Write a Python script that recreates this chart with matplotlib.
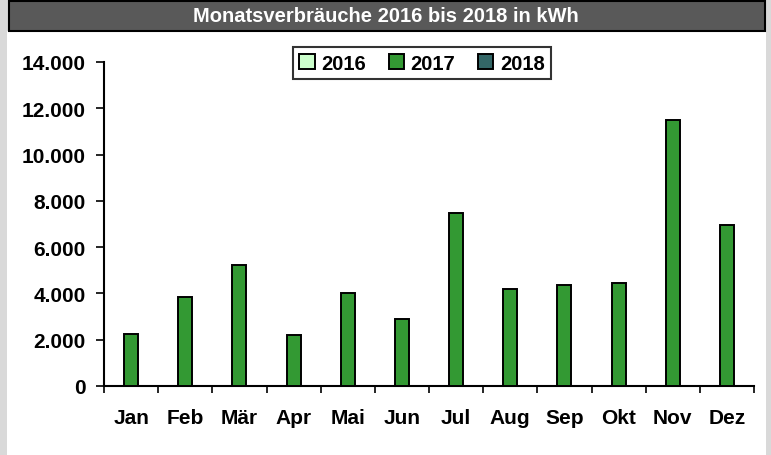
import numpy as np
import matplotlib.pyplot as plt
from matplotlib.patches import Rectangle

# Monatsverbräuche in kWh
monate = ['Jan', 'Feb', 'Mär', 'Apr', 'Mai', 'Jun',
          'Jul', 'Aug', 'Sep', 'Okt', 'Nov', 'Dez']
jahre = ['2016', '2017', '2018']
verbrauch_2016 = [np.nan] * 12
verbrauch_2017 = [2250, 3850, 5230, 2200, 4020, 2900,
                  7480, 4190, 4360, 4450, 11500, 6960]
verbrauch_2018 = [np.nan] * 12
yticks = [0, 2000, 4000, 6000, 8000, 10000, 12000, 14000]

farben = ['#ccffcc', '#339933', '#336666']

W, H = 771, 456
plt.rcParams['font.family'] = ['Liberation Sans', 'DejaVu Sans']
plt.rcParams['font.weight'] = 'bold'

fig = plt.figure(figsize=(W / 100, H / 100), dpi=100, facecolor='#d9d9d9')

# white panel and title bar
fig.patches.append(Rectangle((7 / W, 0), 759 / W, 1 - 32 / H, transform=fig.transFigure,
                             facecolor='white', edgecolor='none', zorder=-3))
fig.patches.append(Rectangle((9 / W, 1 - 32 / H), 756 / W, 30 / H, transform=fig.transFigure,
                             facecolor='#595959', edgecolor='black', linewidth=1.5, zorder=-2))
fig.text(386 / W, 1 - 17 / H, 'Monatsverbräuche 2016 bis 2018 in kWh', color='white',
         fontsize=14.5, fontweight='bold', ha='center', va='center')

ax = fig.add_axes([104 / W, 1 - 387 / H, 650 / W, 324 / H])
ax.set_facecolor('none')

x = np.arange(len(monate))
bw = 0.26
for i, (jahr, werte) in enumerate(zip(jahre, [verbrauch_2016, verbrauch_2017, verbrauch_2018])):
    ax.bar(x + (i - 1) * bw, werte, width=bw, color=farben[i], edgecolor='black',
           linewidth=1.4, label=jahr, zorder=3)

ax.set_xlim(-0.5, len(monate) - 0.5)
ax.set_ylim(0, 14000)
ax.set_yticks(yticks)
ax.set_yticklabels([f'{v:,}'.replace(',', '.') for v in yticks])
ax.set_xticks(x)
ax.set_xticklabels(monate)
ax.set_xticks(np.arange(-0.5, len(monate)), minor=True)

for s in ['top', 'right']:
    ax.spines[s].set_visible(False)
for s in ['left', 'bottom']:
    ax.spines[s].set_linewidth(1.5)

ax.tick_params(axis='y', direction='out', length=6, width=1.2, pad=7, labelsize=15)
ax.tick_params(axis='x', which='major', length=0, pad=16, labelsize=15)
ax.tick_params(axis='x', which='minor', direction='out', length=5, width=1.2)

leg = fig.legend(loc='center', bbox_to_anchor=(422 / W, 1 - 64 / H), ncol=3,
                 fontsize=14.5, frameon=True, fancybox=False, edgecolor='black',
                 handlelength=0.75, handleheight=0.75, handletextpad=0.35,
                 columnspacing=1.1, borderpad=0.3)
leg.get_frame().set_linewidth(1.5)

fig.savefig('out.png', dpi=100, facecolor=fig.get_facecolor())
